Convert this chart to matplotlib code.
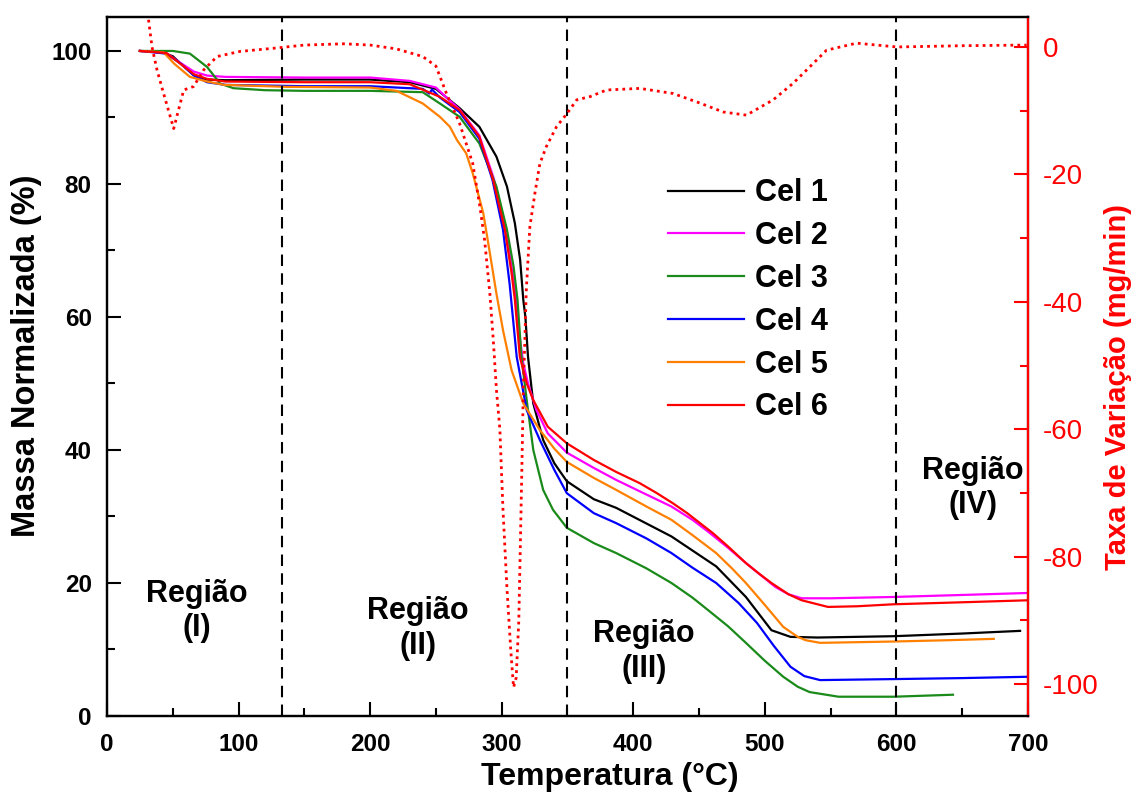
import numpy as np
import matplotlib
matplotlib.use("Agg")
import matplotlib.pyplot as plt
from matplotlib.ticker import MultipleLocator

plt.rcParams['font.family'] = ['Liberation Sans', 'DejaVu Sans']
plt.rcParams['axes.unicode_minus'] = False

# mass curves (temperature in degC, normalized mass in %)
t_cel1 = [25, 40, 50, 56, 66, 76, 90, 150, 200, 230, 250, 268, 283, 296, 304, 310, 314, 316.4, 318, 320,
          324, 331.5, 340, 349.5, 370, 387, 429, 463, 485.6, 505, 519.5, 540, 598, 650, 694]
m_cel1 = [100, 99.9, 99.2, 98.1, 96.4, 95.7, 95.6, 95.7, 95.7, 95.3, 94.3, 91.4, 88.6, 84.1, 79.6, 74.1, 68.6, 62.6, 60, 54,
          47, 41.5, 38, 35.3, 32.6, 31.3, 27, 22.5, 17.9, 12.9, 11.9, 11.8, 12.0, 12.4, 12.8]

t_cel2 = [25, 45, 55, 66, 76, 90, 150, 200, 230, 250, 258, 268, 283, 294, 303, 308, 311, 313, 316.4, 320,
          326.4, 335, 349.5, 370, 387, 410, 429, 445, 457, 472, 485.6, 498, 508, 518, 528, 550, 598, 650, 700]
m_cel2 = [100, 99.7, 98.3, 96.9, 96.3, 96.1, 96.0, 96.0, 95.5, 94.5, 93, 91.2, 87.3, 80.8, 73.3, 67, 62.6, 58, 53, 50,
          46, 42.5, 39.6, 37.3, 35.5, 33.3, 31.5, 29.5, 27.7, 25.3, 23, 21, 19.4, 18.3, 17.7, 17.7, 17.9, 18.2, 18.5]

t_cel3 = [25, 50, 63, 76, 86, 96, 120, 150, 200, 240, 253, 268, 283, 296, 304, 309, 312, 315, 319, 324,
          331.5, 339, 349.5, 370, 387, 410, 429, 445, 457, 472, 485.6, 500, 514, 525, 534, 556, 598, 643]
m_cel3 = [100, 100, 99.6, 97.6, 95.1, 94.4, 94.1, 94.0, 94.0, 93.8, 92.1, 90.1, 86.1, 79.6, 73.1, 67.6, 62.6, 54, 47.5, 40,
          34, 31, 28.3, 26, 24.5, 22.2, 20, 17.8, 15.9, 13.5, 11, 8.3, 5.9, 4.4, 3.6, 2.9, 2.9, 3.2]

t_cel4 = [25, 45, 56, 66, 76, 90, 150, 200, 240, 245, 247, 253, 268, 283, 293, 301, 306, 311.4, 319, 329,
          340, 349.5, 370, 387, 410, 429, 445, 463, 480, 494, 507, 519.5, 530, 542, 598, 650, 700]
m_cel4 = [100, 99.6, 98.1, 96.3, 95.3, 94.9, 94.7, 94.7, 94.3, 93.6, 94.2, 93.0, 90.8, 86.8, 80.6, 73.1, 65, 54, 46, 41.5,
          37, 33.5, 30.5, 29, 26.7, 24.5, 22.3, 20, 17, 14, 10.5, 7.4, 6, 5.4, 5.55, 5.7, 5.9]

t_cel5 = [25, 43, 51, 63, 76, 89, 137, 200, 220, 240, 253, 260.6, 266, 273, 278, 286, 291, 296, 301, 307.5,
          316.4, 329, 340, 349.5, 370, 387, 410, 429, 445, 463, 475, 485.6, 500, 514, 525, 531, 542, 598, 640, 674]
m_cel5 = [100, 99.8, 98.1, 96.1, 95.4, 94.9, 94.6, 94.5, 94.0, 92.1, 90.1, 88.6, 86.6, 84.6, 81.6, 75.6, 69.6, 63.5, 58, 52,
          47, 43, 40.2, 38.2, 35.8, 34, 31.5, 29.5, 27.2, 24.5, 22.2, 20, 16.7, 13.4, 11.9, 11.4, 11, 11.2, 11.4, 11.6]

t_cel6 = [25, 45, 55, 66, 76, 90, 150, 200, 230, 253, 268, 283, 293.5, 302.4, 307.5, 310, 313.8, 319, 324, 335,
          349.5, 370, 387, 405, 418, 430, 441, 460.5, 472, 485.6, 495, 505, 518, 528, 548, 570, 598, 650, 700]
m_cel6 = [100, 99.7, 98.2, 96.5, 95.8, 95.4, 95.3, 95.3, 95.0, 93.1, 91.1, 87.1, 80.6, 73.1, 66.6, 62.6, 54, 50, 47.5, 43.5,
          41, 38.5, 36.7, 35, 33.5, 32, 30.5, 27.5, 25.5, 23, 21.5, 20, 18.3, 17.4, 16.4, 16.5, 16.8, 17.1, 17.4]

# derivative curve (mg/min)
t_dtg = [30, 31.6, 34.2, 38, 43, 50.7, 58.3, 65.8, 73.5, 83.6, 101, 126.6, 150, 180, 200, 220, 240, 250, 258, 268,
         278, 283.4, 287, 291, 293.6, 296, 298.6, 300, 301, 304, 307, 309, 311, 313, 314.7, 315.5, 316.4, 317.6, 318.6,
         321.4, 325.2, 329, 334, 341.7, 349.8, 357, 367, 379.7, 405, 430.3, 450.6, 468.3, 486, 506.3, 521.5, 536.7,
         546.9, 569.7, 600.5, 650, 699]
r_dtg = [8, 4.2, 0, -3.6, -7.3, -12.8, -6.75, -6.2, -3.6, -1.5, -0.7, -0.2, 0.3, 0.5, 0.3, -0.3, -1.5, -3, -7.3, -12,
         -18.3, -25, -30.3, -38.7, -46, -53.8, -60, -67.5, -72.7, -85, -95, -100.5, -99, -90, -72.7, -64.3, -53.8, -46, -38.5,
         -28.2, -23, -18.3, -15.6, -12.5, -10.4, -8.3, -7.8, -6.75, -6.5, -7.3, -8.8, -10.2, -10.7, -8.3, -5.7, -2.6,
         -0.5, 0.6, 0, 0.2, 0.3]

labels = ["Cel 1", "Cel 2", "Cel 3", "Cel 4", "Cel 5", "Cel 6"]
colors = ["black", "#ff00ff", "#1a8a1a", "#0000ff", "#ff8000", "#ff0000"]
region_lines = [133, 350, 600]
region_text = [("Região\n(I)", 68, 15.8), ("Região\n(II)", 236, 13.2),
               ("Região\n(III)", 408, 9.7), ("Região\n(IV)", 658, 34.3)]

fig = plt.figure(figsize=(11.36, 7.96), dpi=100)
ax = fig.add_axes([0.0942, 0.1005, 0.8107, 0.8781])
ax2 = ax.twinx()

curves = [(t_cel1, m_cel1), (t_cel2, m_cel2), (t_cel3, m_cel3),
          (t_cel4, m_cel4), (t_cel5, m_cel5), (t_cel6, m_cel6)]
for (t, m), lab, c in zip(curves, labels, colors):
    ax.plot(t, m, color=c, lw=1.6, label=lab)

ax2.plot(t_dtg, r_dtg, color="red", lw=2.0, linestyle=(0, (1, 1.5)))

for xv in region_lines:
    ax.axvline(xv, color="black", lw=1.5, linestyle=(0, (5.5, 3.5)))

for txt, xv, yv in region_text:
    ax.text(xv, yv, txt, ha="center", va="center", fontsize=22, fontweight="bold", linespacing=1.2)

ax.set_xlim(0, 700)
ax.set_ylim(0, 105.1)
ax2.set_ylim(-105, 4.7)

ax.xaxis.set_major_locator(MultipleLocator(100))
ax.xaxis.set_minor_locator(MultipleLocator(50))
ax.yaxis.set_major_locator(MultipleLocator(20))
ax.yaxis.set_minor_locator(MultipleLocator(10))
ax2.yaxis.set_major_locator(MultipleLocator(20))
ax2.yaxis.set_minor_locator(MultipleLocator(10))

ax.tick_params(axis="both", which="major", direction="in", length=10, width=1.5, labelsize=17.5)
ax.tick_params(axis="both", which="minor", direction="in", length=5.5, width=1.5)
ax.tick_params(axis="x", which="major", pad=12)
ax.tick_params(axis="y", which="major", pad=11)
ax.tick_params(top=False, which="both")
ax2.tick_params(axis="y", which="major", direction="in", length=10, width=1.5, colors="red",
                labelsize=20, pad=11)
ax2.tick_params(axis="y", which="minor", direction="in", length=5.5, width=1.5, colors="red")
for lab in ax.get_xticklabels() + ax.get_yticklabels():
    lab.set_fontweight("bold")

for sp in ax.spines.values():
    sp.set_linewidth(1.6)
for sp in ax2.spines.values():
    sp.set_linewidth(1.6)
ax2.spines["right"].set_color("red")

ax.set_xlabel("Temperatura (°C)", fontsize=23, fontweight="bold")
ax.xaxis.set_label_coords(0.546, -0.066)
ax.set_ylabel("Massa Normalizada (%)", fontsize=23.5, fontweight="bold")
ax.yaxis.set_label_coords(-0.071, 0.515)
ax2.set_ylabel("Taxa de Variação (mg/min)", fontsize=21, fontweight="bold", color="red")
ax2.yaxis.set_label_coords(1.083, 0.47)

leg = ax.legend(loc="upper left", bbox_to_anchor=(0.586, 0.80), frameon=False,
                prop={"size": 22, "weight": "bold"}, handlelength=2.5, labelspacing=0.42,
                handletextpad=0.35, borderpad=0.2)

fig.savefig("out.png", dpi=100)
